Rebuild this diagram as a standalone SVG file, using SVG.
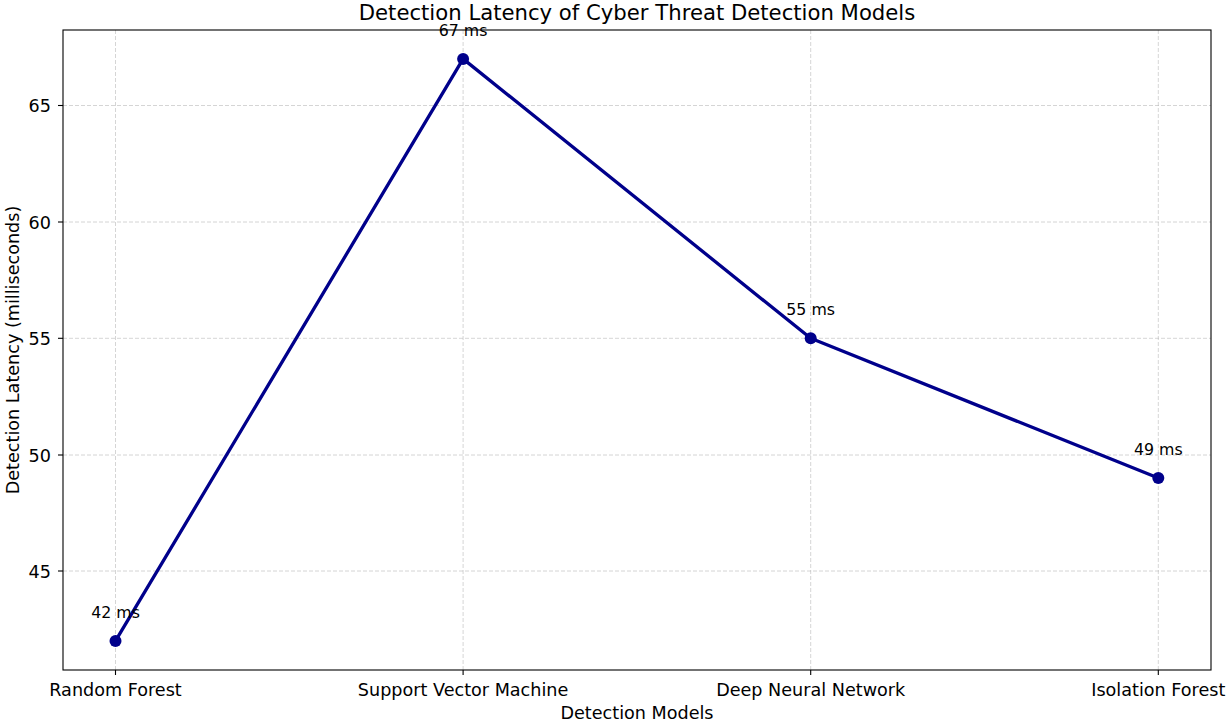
<svg xmlns="http://www.w3.org/2000/svg" width="1228" height="723" viewBox="0 0 1228 723">
  <style>
    text { font-family: "DejaVu Sans", "Liberation Sans", sans-serif; fill: #000; }
    .grid { stroke: #b0b0b0; stroke-opacity: 0.6; stroke-width: 0.9; stroke-dasharray: 4 2; fill: none; }
    .tick { stroke: #000; stroke-width: 1.1; }
    .ytl { font-size: 17.6px; text-anchor: end; }
    .xtl { font-size: 17.6px; text-anchor: middle; }
    .lbl { font-size: 17.6px; text-anchor: middle; }
    .ann { font-size: 15.8px; text-anchor: middle; }
    .series { stroke: #00008b; stroke-width: 3.3; fill: none; stroke-linejoin: round; }
    .pt { fill: #00008b; }
  </style>
  <rect width="1228" height="723" fill="#fff"/>

  <!-- gridlines -->
  <g id="grid">
    <line class="grid" x1="115.5" y1="30" x2="115.5" y2="670"/>
    <line class="grid" x1="463.1" y1="30" x2="463.1" y2="670"/>
    <line class="grid" x1="810.7" y1="30" x2="810.7" y2="670"/>
    <line class="grid" x1="1158.3" y1="30" x2="1158.3" y2="670"/>
    <line class="grid" x1="63" y1="105.5" x2="1211" y2="105.5"/>
    <line class="grid" x1="63" y1="222" x2="1211" y2="222"/>
    <line class="grid" x1="63" y1="338.3" x2="1211" y2="338.3"/>
    <line class="grid" x1="63" y1="455" x2="1211" y2="455"/>
    <line class="grid" x1="63" y1="571" x2="1211" y2="571"/>
  </g>

  <!-- data series -->
  <g id="connectors">
    <polyline class="series" points="115.5,640.9 463.1,58.9 810.7,338.3 1158.3,478"/>
  </g>
  <g id="node-random-forest"><circle class="pt" cx="115.5" cy="640.9" r="6"/><text class="ann" x="115.5" y="618">42 ms</text></g>
  <g id="node-svm"><circle class="pt" cx="463.1" cy="58.9" r="6"/><text class="ann" x="463.1" y="36">67 ms</text></g>
  <g id="node-dnn"><circle class="pt" cx="810.7" cy="338.3" r="6"/><text class="ann" x="810.7" y="315">55 ms</text></g>
  <g id="node-isolation-forest"><circle class="pt" cx="1158.3" cy="478" r="6"/><text class="ann" x="1158.3" y="455">49 ms</text></g>

  <!-- axes frame -->
  <rect x="63" y="30" width="1148" height="640" fill="none" stroke="#000" stroke-width="1.1"/>

  <!-- y ticks -->
  <g id="y-axis">
    <line class="tick" x1="58" y1="105.5" x2="63" y2="105.5"/>
    <line class="tick" x1="58" y1="222" x2="63" y2="222"/>
    <line class="tick" x1="58" y1="338.3" x2="63" y2="338.3"/>
    <line class="tick" x1="58" y1="455" x2="63" y2="455"/>
    <line class="tick" x1="58" y1="571" x2="63" y2="571"/>
    <text class="ytl" x="51" y="112">65</text>
    <text class="ytl" x="51" y="228.5">60</text>
    <text class="ytl" x="51" y="344.8">55</text>
    <text class="ytl" x="51" y="461.5">50</text>
    <text class="ytl" x="51" y="577.5">45</text>
    <text class="lbl" transform="translate(19,350) rotate(-90)">Detection Latency (milliseconds)</text>
  </g>

  <!-- x ticks -->
  <g id="x-axis">
    <line class="tick" x1="115.5" y1="670" x2="115.5" y2="675"/>
    <line class="tick" x1="463.1" y1="670" x2="463.1" y2="675"/>
    <line class="tick" x1="810.7" y1="670" x2="810.7" y2="675"/>
    <line class="tick" x1="1158.3" y1="670" x2="1158.3" y2="675"/>
    <text class="xtl" x="115.5" y="696">Random Forest</text>
    <text class="xtl" x="463.1" y="696">Support Vector Machine</text>
    <text class="xtl" x="810.7" y="696">Deep Neural Network</text>
    <text class="xtl" x="1158.3" y="696">Isolation Forest</text>
    <text class="lbl" x="637" y="719">Detection Models</text>
  </g>

  <text id="title" font-size="21.2px" text-anchor="middle" x="637" y="20">Detection Latency of Cyber Threat Detection Models</text>
</svg>
